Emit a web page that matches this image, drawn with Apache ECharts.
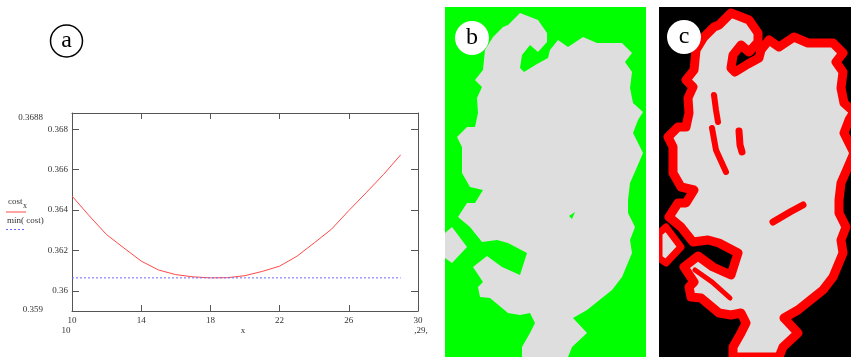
<!DOCTYPE html>
<html><head><meta charset="utf-8">
<script src="https://cdn.jsdelivr.net/npm/echarts@6/dist/echarts.min.js"></script>
<style>html,body{margin:0;padding:0;background:#fff}#c{width:851px;height:357px}</style>
</head><body><div id="c"></div>
<script>
// ---- data ----
const xValues = [10,11,12,13,14,15,16,17,18,19,20,21,22,23,24,25,26,27,28,29];
const costValues = [0.36469,0.36371,0.36278,0.36212,0.36147,0.36103,0.36080,0.36069,0.36064,0.36065,0.36075,0.36096,0.36122,0.36171,0.36237,0.36305,0.36397,0.36485,0.36575,0.36673];
const yTickValues = [0.360,0.362,0.364,0.366,0.368];
const yExtremeLabels = [0.359,0.3688];
const xTickInterval = 4;

const minCost = Math.min(...costValues);
const costSeries = xValues.map((x,i)=>[x,costValues[i]]);
const minSeries = [[xValues[0],minCost],[xValues[xValues.length-1],minCost]];

// ---- decorative panel outlines (image panels b, c) ----
const blob = [[520,13],[538,20],[547,33],[547,42],[538,52],[530,45],[522,55],[520,68],[524,72],[537,64],[548,58],[550,50],[558,40],[568,47],[583,37],[597,43],[622,43],[632,53],[625,62],[632,72],[630,88],[633,103],[643,112],[638,120],[633,133],[643,153],[637,167],[630,183],[628,200],[628,213],[635,227],[630,240],[632,253],[622,277],[612,290],[587,310],[573,318],[587,333],[572,347],[568,357],[522,357],[522,347],[530,333],[535,323],[530,313],[520,315],[508,313],[490,298],[480,297],[478,287],[483,282],[473,267],[487,256],[502,267],[520,275],[527,253],[508,243],[497,240],[482,242],[470,227],[458,217],[467,203],[475,203],[483,190],[470,187],[462,173],[462,157],[462,147],[457,137],[467,127],[475,127],[478,113],[477,98],[482,87],[475,80],[483,70],[485,50],[493,37],[503,27],[508,25]];
const islet = [[445,233],[452,227],[467,247],[452,263],[445,258]];
const shift = (pts,dx)=>pts.map(p=>[p[0]+dx,p[1]]);
const DX = 211;

const serif = '"Liberation Serif", "DejaVu Serif", serif';
const lbl = {fontFamily: serif, fontSize: 9, color: '#333'};

const chart = echarts.init(document.getElementById('c'), null, {renderer:'canvas'});
const axisLine = {show:true, lineStyle:{color:'#555', width:1}};
chart.setOption({
  animation:false,
  backgroundColor:'#fff',
  grid:{left:72, top:113, width:346, height:198, containLabel:false},
  xAxis:[
    {type:'value', position:'bottom', min:10, max:30, interval:xTickInterval,
     axisLine, axisTick:{show:true, inside:true, length:6, lineStyle:{color:'#555'}},
     axisLabel:{...lbl, margin:5}, splitLine:{show:false}},
    {type:'value', position:'top', min:10, max:30, interval:xTickInterval,
     axisLine, axisTick:{show:true, inside:true, length:6, lineStyle:{color:'#555'}},
     axisLabel:{show:false}, splitLine:{show:false}}
  ],
  yAxis:[
    {type:'value', position:'left', min:0.359, max:0.3688,
     axisLine, axisTick:{show:true, inside:true, length:7, customValues:yTickValues, lineStyle:{color:'#555'}},
     axisLabel:{...lbl, margin:4, customValues:yTickValues, formatter:v=>String(+v.toFixed(4))},
     splitLine:{show:false}},
    {type:'value', position:'right', min:0.359, max:0.3688,
     axisLine, axisTick:{show:true, inside:true, length:7, customValues:yTickValues, lineStyle:{color:'#555'}},
     axisLabel:{show:false}, splitLine:{show:false}},
    {type:'value', position:'left', offset:25, min:0.359, max:0.3688,
     axisLine:{show:false}, axisTick:{show:false},
     axisLabel:{...lbl, margin:4, customValues:yExtremeLabels,
       formatter:v=> v > 0.3685 ? '{t|' + String(+v.toFixed(4)) + '}' : '{b|' + String(+v.toFixed(4)) + '}',
       rich:{t:{...lbl, padding:[10,0,0,0]}, b:{...lbl, padding:[0,0,2,0]}}},
     splitLine:{show:false}}
  ],
  series:[
    {type:'line', data:costSeries, xAxisIndex:0, yAxisIndex:0, showSymbol:false, symbol:'none',
     lineStyle:{color:'#ff4a4a', width:1}},
    {type:'line', data:minSeries, xAxisIndex:0, yAxisIndex:0, showSymbol:false, symbol:'none',
     lineStyle:{color:'#6a6aff', width:1, type:[2,2]}}
  ],
  graphic:[
    // circle label a
    {type:'circle', shape:{cx:66.5, cy:41, r:16}, style:{fill:'#fff', stroke:'#000', lineWidth:1.5}},
    {type:'text', x:66.5, y:41, style:{text:'a', font:'24px '+serif, fill:'#000', align:'center', verticalAlign:'middle'}},
    // legend
    {type:'text', x:8, y:202, style:{text:'cost', font:'9px '+serif, fill:'#333', verticalAlign:'middle'}},
    {type:'text', x:23, y:206, style:{text:'x', font:'8px '+serif, fill:'#333', verticalAlign:'middle'}},
    {type:'line', shape:{x1:6, y1:212, x2:26, y2:212}, style:{stroke:'#ff4a4a', lineWidth:1}},
    {type:'text', x:7, y:221, style:{text:'min( cost)', font:'9px '+serif, fill:'#333', verticalAlign:'middle'}},
    {type:'line', shape:{x1:6, y1:229.5, x2:24, y2:229.5}, style:{stroke:'#6a6aff', lineWidth:1, lineDash:[2,2]}},
    // extra x labels
    {type:'text', x:66, y:331, style:{text:'10', font:'9px '+serif, fill:'#333', align:'center', verticalAlign:'middle'}},
    {type:'text', x:243, y:331, style:{text:'x', font:'9px '+serif, fill:'#333', align:'center', verticalAlign:'middle'}},
    {type:'text', x:421, y:331, style:{text:',29,', font:'9px '+serif, fill:'#333', align:'center', verticalAlign:'middle'}},
    // panel b
    {type:'rect', shape:{x:445, y:7, width:201, height:350}, style:{fill:'#00ff00'}},
    {type:'polygon', shape:{points:blob}, style:{fill:'#dedede'}},
    {type:'polygon', shape:{points:islet}, style:{fill:'#dedede'}},
    {type:'polygon', shape:{points:[[569,216],[575,212],[572,219]]}, style:{fill:'#00ff00'}},
    {type:'circle', shape:{cx:472, cy:38, r:17}, style:{fill:'#fff'}},
    {type:'text', x:472, y:38, style:{text:'b', font:'24px '+serif, fill:'#000', align:'center', verticalAlign:'middle'}},
    // panel c
    {type:'rect', shape:{x:659, y:7, width:192, height:350}, style:{fill:'#000'}},
    {type:'group', clipPath:{type:'rect', shape:{x:659, y:7, width:192, height:350}}, children:[
      {type:'polygon', shape:{points:shift(blob,DX)}, style:{fill:'#dedede', stroke:'#ff0000', lineWidth:9, lineJoin:'round'}},
      {type:'polygon', shape:{points:shift(islet,DX+3)}, style:{fill:'#dedede', stroke:'#ff0000', lineWidth:7, lineJoin:'round'}},
      {type:'polyline', shape:{points:[[714,95],[716,110],[718,122]]}, style:{stroke:'#ff0000', lineWidth:6, lineCap:'round'}},
      {type:'polyline', shape:{points:[[712,128],[716,150],[726,172]]}, style:{stroke:'#ff0000', lineWidth:6, lineCap:'round'}},
      {type:'polyline', shape:{points:[[739,131],[740,145],[742,152]]}, style:{stroke:'#ff0000', lineWidth:7, lineCap:'round'}},
      {type:'polyline', shape:{points:[[773,222],[790,212],[803,205]]}, style:{stroke:'#ff0000', lineWidth:7, lineCap:'round'}},
      {type:'polyline', shape:{points:[[695,270],[712,282],[730,298]]}, style:{stroke:'#ff0000', lineWidth:5, lineCap:'round'}}
    ]},
    {type:'circle', shape:{cx:684, cy:37, r:17}, style:{fill:'#fff'}},
    {type:'text', x:684, y:37, style:{text:'c', font:'24px '+serif, fill:'#000', align:'center', verticalAlign:'middle'}}
  ]
});
</script>
</body></html>
